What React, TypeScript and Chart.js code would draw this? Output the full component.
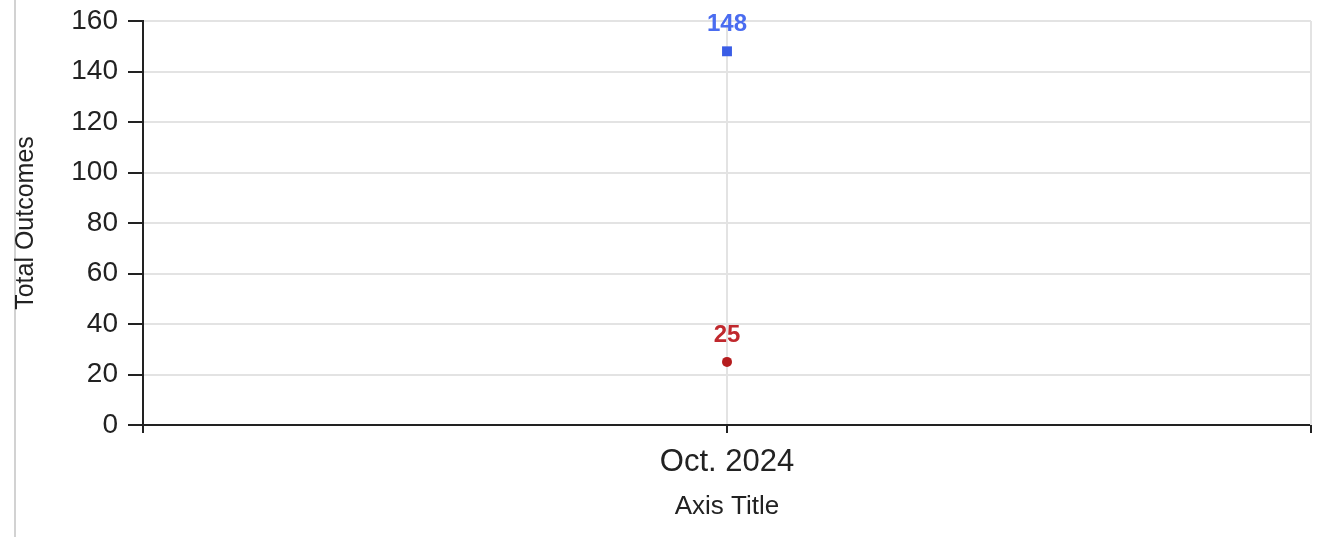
import React, { useEffect, useRef } from 'react';
import { Chart, registerables } from 'chart.js';

Chart.register(...registerables);

// ---- data ----
const categories = ['Oct. 2024'];
const seriesNames = ['Outcome A', 'Outcome B'];
const seriesAValues = [148];
const seriesBValues = [25];
const yMin = 0;
const yMax = 160;
const yStep = 20;
const xAxisTitle = 'Axis Title';
const yAxisTitle = 'Total Outcomes';

const FONT = 'Arial, "Liberation Sans", sans-serif';

const valueLabels = {
  id: 'valueLabels',
  afterDatasetsDraw(chart: any) {
    const ctx = chart.ctx;
    chart.data.datasets.forEach((ds: any, i: number) => {
      const meta = chart.getDatasetMeta(i);
      meta.data.forEach((pt: any, j: number) => {
        ctx.save();
        ctx.font = `bold 24px ${FONT}`;
        ctx.fillStyle = ds.labelColor;
        ctx.textAlign = 'center';
        ctx.textBaseline = 'middle';
        ctx.fillText(String(ds.data[j]), pt.x, pt.y - 27);
        ctx.restore();
      });
    });
  },
};

const edgeLines = {
  id: 'edgeLines',
  beforeDatasetsDraw(chart: any) {
    const { ctx, chartArea } = chart;
    ctx.save();
    ctx.lineWidth = 2;
    ctx.strokeStyle = '#e3e3e3';
    ctx.beginPath();
    ctx.moveTo(chartArea.right, chartArea.top);
    ctx.lineTo(chartArea.right, chartArea.bottom);
    ctx.stroke();
    ctx.strokeStyle = '#222';
    ctx.beginPath();
    ctx.moveTo(chartArea.right, chartArea.bottom);
    ctx.lineTo(chartArea.right, chartArea.bottom + 8);
    ctx.moveTo(chartArea.left, chartArea.bottom);
    ctx.lineTo(chartArea.left, chartArea.bottom + 8);
    ctx.stroke();
    ctx.restore();
  },
};

export default function App() {
  const canvasRef = useRef<HTMLCanvasElement | null>(null);

  useEffect(() => {
    if (!canvasRef.current) return;
    Chart.defaults.font.family = FONT;
    const chart = new Chart(canvasRef.current, {
      type: 'line',
      data: {
        labels: categories,
        datasets: [
          {
            label: seriesNames[0],
            data: seriesAValues,
            showLine: false,
            pointStyle: 'rect',
            pointRadius: 7,
            pointBorderWidth: 0,
            pointBackgroundColor: '#3a5de6',
            borderColor: '#3a5de6',
            labelColor: '#4a6cf0',
          } as any,
          {
            label: seriesNames[1],
            data: seriesBValues,
            showLine: false,
            pointStyle: 'circle',
            pointRadius: 5,
            pointBorderWidth: 0,
            pointBackgroundColor: '#b51c1e',
            borderColor: '#b51c1e',
            labelColor: '#c0282d',
          } as any,
        ],
      },
      options: {
        animation: false,
        responsive: true,
        maintainAspectRatio: false,
        layout: { padding: { left: 14, top: 21, right: 7, bottom: 17 } },
        plugins: {
          legend: { display: false },
          tooltip: { enabled: false },
        },
        scales: {
          x: {
            type: 'category',
            offset: true,
            border: { color: '#222', width: 2 },
            grid: {
              offset: false,
              color: '#e3e3e3',
              lineWidth: 2,
              tickColor: '#222',
              tickLength: 8,
              tickWidth: 2,
            },
            ticks: { color: '#222', font: { size: 31 }, padding: 11 },
            title: {
              display: true,
              text: xAxisTitle,
              color: '#222',
              font: { size: 26, lineHeight: 1 },
              padding: 0,
            },
            afterFit: (s: any) => {
              s.height = 95;
              s.paddingLeft = 0;
              s.paddingRight = 0;
            },
          },
          y: {
            min: yMin,
            max: yMax,
            border: { color: '#222', width: 2 },
            grid: {
              color: '#e3e3e3',
              lineWidth: 2,
              tickColor: '#222',
              tickLength: 15,
              tickWidth: 2,
            },
            ticks: { stepSize: yStep, color: '#222', font: { size: 28 }, padding: 10 },
            title: {
              display: true,
              text: yAxisTitle,
              color: '#222',
              font: { size: 25, lineHeight: 1 },
              padding: 0,
            },
            afterFit: (s: any) => {
              s.width = 129;
              s.paddingTop = 0;
              s.paddingBottom = 0;
            },
          },
        },
      },
      plugins: [edgeLines, valueLabels],
    });
    return () => chart.destroy();
  }, []);

  return (
    <div style={{ position: 'fixed', left: 0, top: 0, width: 1318, height: 537, background: '#fff' }}>
      <div style={{ position: 'absolute', left: 14, top: 0, width: 2, height: 537, background: '#d2d2d2' }} />
      <canvas ref={canvasRef} style={{ position: 'absolute', left: 0, top: 0 }} />
    </div>
  );
}
